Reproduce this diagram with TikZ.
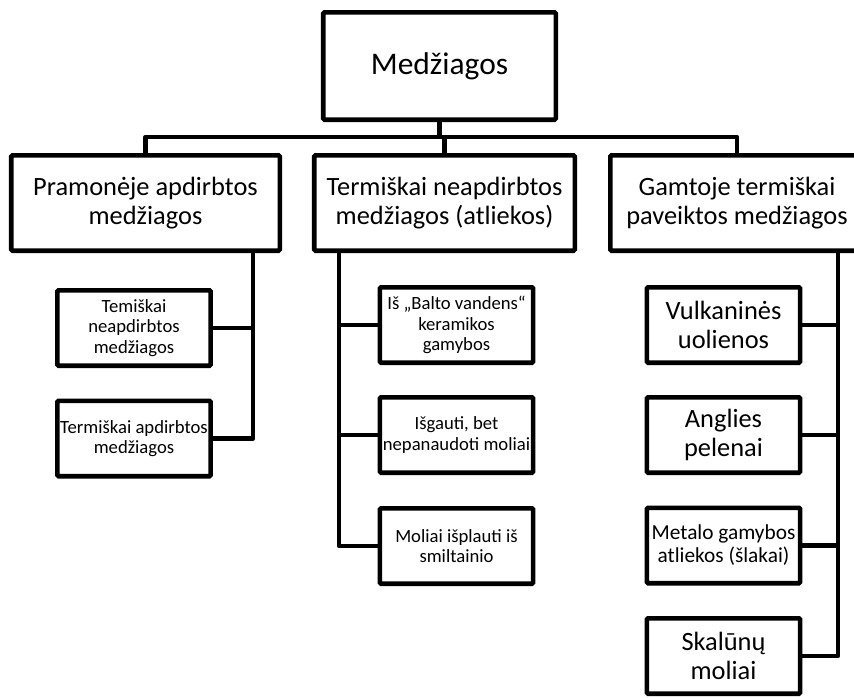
\documentclass[tikz,border=0pt]{standalone}
\usepackage{fontspec}
\setmainfont{Carlito}
\begin{document}
\begin{tikzpicture}[x=0.75pt,y=-0.75pt,
  box/.style={draw, line width=3.4pt, inner sep=0pt, align=center, rounded corners=1pt},
  conn/.style={line width=3.4pt, line join=round},
  fbig/.style={font=\fontsize{23.6}{25.5}\selectfont},
  fmid/.style={font=\fontsize{19.8}{21.5}\selectfont},
  fsmall/.style={font=\fontsize{14}{15.2}\selectfont},
  fmet/.style={font=\fontsize{16}{17.3}\selectfont},
  topbox/.style={box, fbig, minimum width=174.4pt, minimum height=80.6pt},
  lvl/.style={box, fmid, minimum height=71.6pt},
  leaf/.style={box, minimum width=115pt, minimum height=56.6pt},
]
\useasboundingbox (0,0) rectangle (854,697);
\clip (0,0) rectangle (854,697);

\node[topbox] (top) at (439.5,66) {Medžiagos};

\node[lvl, minimum width=201.4pt] (L) at (145.5,203) {Pramonėje apdirbtos\\medžiagos};
\node[lvl, minimum width=195.4pt] (M) at (444.5,203) {Termiškai neapdirbtos\\medžiagos (atliekos)};
\node[lvl, minimum width=190.1pt] (R) at (737,203) {Gamtoje termiškai\\paveiktos medžiagos};

\node[leaf, fsmall] (L1) at (134,328) {Temiškai\\neapdirbtos\\medžiagos};
\node[leaf, fsmall] (L2) at (134,438.5) {Termiškai apdirbtos\\medžiagos};

\node[leaf, fsmall] (M1) at (456.5,325) {Iš „Balto vandens“\\keramikos\\gamybos};
\node[leaf, fsmall] (M2) at (456.5,435) {Išgauti, bet\\nepanaudoti moliai};
\node[leaf, fsmall] (M3) at (456.5,546) {Moliai išplauti iš\\smiltainio};

\node[leaf, fmid] (R1) at (723.5,325) {Vulkaninės\\uolienos};
\node[leaf, fmid] (R2) at (723.5,435) {Anglies\\pelenai};
\node[leaf, fmet] (R3) at (723.5,545.5) {Metalo gamybos\\atliekos (šlakai)};
\node[leaf, fmid] (R4) at (723.5,656) {Skalūnų\\moliai};

\coordinate (bus) at (0,137);
\coordinate (tL) at (253,0);
\coordinate (tM) at (339,0);
\coordinate (tR) at (838,0);

\draw[conn] (top.south) -- (top.south |- bus);
\draw[conn] (L.north) -- (L.north |- bus) -| (R.north);
\draw[conn] (M.north) -- (M.north |- bus);

\draw[conn] (L.south -| tL) |- (L2.east);
\draw[conn] (L1.east) -- (L1.east -| tL);

\draw[conn] (M.south -| tM) |- (M3.west);
\draw[conn] (M1.west) -- (M1.west -| tM);
\draw[conn] (M2.west) -- (M2.west -| tM);

\draw[conn] (R.south -| tR) |- (R4.east);
\draw[conn] (R1.east) -- (R1.east -| tR);
\draw[conn] (R2.east) -- (R2.east -| tR);
\draw[conn] (R3.east) -- (R3.east -| tR);
\end{tikzpicture}
\end{document}
